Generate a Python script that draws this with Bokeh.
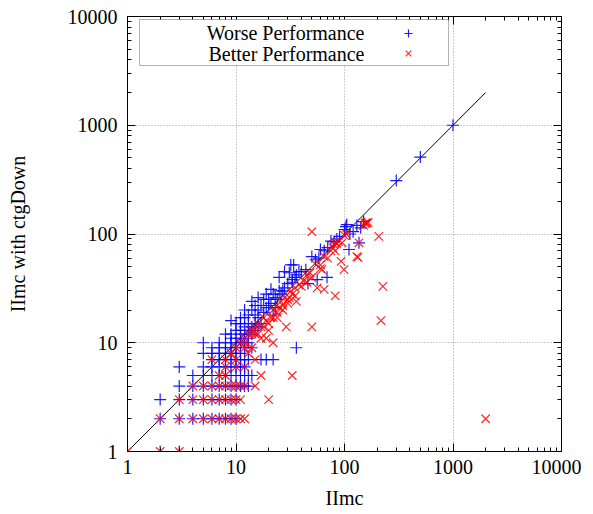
from bokeh.plotting import figure
from bokeh.models import (LogAxis, LogTicker, BoxAnnotation, Label, Legend, LegendItem,
                          Range1d, BasicTickFormatter)
from bokeh.embed import file_html
from bokeh.resources import INLINE

# ---------------- data ----------------
series_names = ["Worse Performance", "Better Performance"]
x_label = "IImc"
y_label = "IImc with ctgDown"
axis_range = [1, 10000]
diag_x = [1, 2000]
diag_y = [1, 2000]

worse_points = [
    (1, 1), (2, 1), (3, 1),
    (2, 2), (3, 2), (4, 2), (5, 2), (6, 2), (7, 2), (8, 2), (9, 2), (10, 2),
    (2, 3), (3, 3), (4, 3), (5, 3), (6, 3), (7, 3), (8, 3), (9, 3), (10, 3),
    (3, 4), (4, 4), (5, 4), (6, 4), (7, 4), (8, 4), (9, 4), (10, 4), (11, 4), (12, 4), (13, 4),
    (4, 5), (5, 5), (6, 5), (7, 5), (8, 5), (9, 5), (10, 5), (11, 5), (12, 5), (13, 5), (14, 5),
    (3, 6), (5, 6), (6, 6), (7, 6), (8, 6), (9, 6), (10, 6), (11, 6), (12, 6),
    (6, 7), (7, 7), (8, 7), (9, 7), (10, 7), (11, 7), (12, 7), (13, 7), (17, 7), (19, 7), (22, 7),
    (5, 8), (6, 8), (7, 8), (8, 8), (9, 8), (10, 8), (11, 8),
    (6, 9), (7, 9), (8, 9), (9, 9), (10, 9), (12, 9), (14, 9), (36, 9),
    (5, 10), (7, 10), (8, 10), (9, 10), (10, 10), (11, 10), (12, 10), (13, 10),
    (9, 11), (10, 11), (11, 11), (13, 11),
    (8, 12), (9, 12), (11, 12), (12, 12), (14, 12),
    (10, 13), (11, 13), (13, 13), (15, 13),
    (12, 14), (14, 14), (16, 14),
    (10, 15), (11, 15), (13, 15), (15, 15), (17, 15),
    (9, 16), (11, 17), (12, 20),
    (12, 17), (13, 18), (14, 20), (15, 18), (16, 17), (15, 22), (16, 20), (17, 22),
    (18, 19), (18, 25), (19, 21), (20, 22), (20, 25), (21, 23), (22, 18), (23, 21),
    (22, 28), (23, 26), (24, 25), (25, 30), (26, 28), (27, 30), (28, 32), (30, 35),
    (32, 52), (33, 38), (34, 52), (33, 36), (35, 40), (36, 42), (38, 45), (40, 45),
    (44, 47), (46, 35), (50, 62), (54, 58), (56, 38), (58, 60), (60, 72), (65, 70),
    (69, 40), (70, 75), (75, 86), (80, 85), (85, 90), (90, 95), (100, 110), (103, 117),
    (105, 122), (110, 72), (112, 100), (120, 105), (130, 120), (136, 83), (141, 114),
    (150, 130), (300, 310), (500, 510), (1000, 1000),
    (16, 26), (19, 28), (14, 24), (25, 40), (28, 45), (31, 44), (21, 31),
]

better_points = [
    (1, 1), (2, 1), (3, 1),
    (2, 2), (3, 2), (4, 2), (5, 2), (6, 2), (7, 2), (8, 2), (9, 2), (10, 2), (11, 2), (12, 2), (2000, 2),
    (3, 3), (4, 3), (5, 3), (6, 3), (7, 3), (8, 3), (9, 3), (10, 3), (11, 3), (20, 3),
    (4, 4), (5, 4), (6, 4), (7, 4), (8, 4), (9, 4), (10, 4), (11, 4), (12, 4), (15, 4),
    (7, 5), (8, 5), (17, 5), (33, 5),
    (8, 6), (10, 6), (12, 6),
    (6, 7), (8, 7), (10, 7), (15, 7),
    (12, 9), (13, 8),
    (9, 8), (10, 9), (11, 10), (12, 10), (12, 11), (13, 12), (14, 13), (14, 12),
    (15, 14), (15, 12), (16, 15), (16, 12), (17, 14), (18, 17), (18, 14), (19, 16),
    (20, 15), (21, 17), (22, 20), (22, 17), (22, 10), (24, 19), (25, 21), (26, 24),
    (27, 22), (28, 26), (29, 14), (30, 23), (30, 25), (31, 26), (32, 30), (33, 28),
    (35, 32), (35, 27), (38, 34), (40, 33), (42, 37), (45, 42), (45, 36), (48, 44),
    (50, 40), (50, 14), (50, 105), (55, 52), (56, 32), (60, 48), (60, 52), (62, 47),
    (65, 31), (65, 62), (70, 60), (75, 70), (78, 75), (80, 80), (82, 70), (82, 27),
    (83, 83), (85, 82), (88, 85), (93, 56), (95, 83), (99, 47), (100, 97), (104, 100),
    (130, 62), (133, 61), (136, 83), (150, 120), (155, 125), (158, 127), (162, 126),
    (165, 128), (207, 95), (217, 16), (226, 33),
    (14, 9), (17, 11), (20, 13), (24, 17), (27, 20), (19, 11), (36, 24),
]

worse_x = [pt[0] for pt in worse_points]
worse_y = [pt[1] for pt in worse_points]
better_x = [pt[0] for pt in better_points]
better_y = [pt[1] for pt in better_points]

FONT = "Liberation Serif"
FS = "20px"
BLUE = "#0000ff"
RED = "#ff0000"

p = figure(
    x_axis_type="log", y_axis_type="log",
    x_range=Range1d(*axis_range), y_range=Range1d(*axis_range),
    frame_width=434, frame_height=435,
    min_border_left=127, min_border_right=20, min_border_top=16, min_border_bottom=54,
    output_backend="svg", toolbar_location=None,
    background_fill_color="white", border_fill_color="white",
)
p.outline_line_color = "black"
p.outline_line_width = 1


def style_axis(ax, show_labels=True):
    ax.ticker = LogTicker(desired_num_ticks=5, num_minor_ticks=10)
    ax.formatter = BasicTickFormatter()
    ax.major_tick_in = 8
    ax.major_tick_out = 0
    ax.minor_tick_in = 4
    ax.minor_tick_out = 0
    ax.axis_line_color = "black"
    ax.axis_line_width = 1
    ax.major_tick_line_color = "black"
    ax.minor_tick_line_color = "black"
    ax.major_label_text_font = FONT
    ax.major_label_text_color = "black"
    ax.axis_label_text_font = FONT
    ax.axis_label_text_font_size = FS
    ax.axis_label_text_font_style = "normal"
    ax.axis_label_text_color = "black"
    if show_labels:
        ax.major_label_text_font_size = FS
    else:
        ax.major_label_text_font_size = "2px"
        ax.major_label_text_alpha = 0
        ax.major_label_standoff = 0


xa = p.xaxis[0]
ya = p.yaxis[0]
style_axis(xa)
style_axis(ya)
xa.axis_label = x_label
ya.axis_label = y_label
xa.major_label_standoff = 8
xa.axis_label_standoff = 10
ya.major_label_standoff = 10
ya.axis_label_standoff = 36

top = LogAxis()
right = LogAxis()
style_axis(top, False)
style_axis(right, False)
p.add_layout(top, "above")
p.add_layout(right, "right")

for g in (p.xgrid[0], p.ygrid[0]):
    g.ticker = LogTicker(desired_num_ticks=5)
    g.grid_line_color = "#9a9a9a"
    g.grid_line_dash = "1 2"
    g.grid_line_width = 1

p.line(diag_x, diag_y, line_color="black", line_width=1)

rb = p.scatter(worse_x, worse_y, marker="cross", size=12, line_color=BLUE,
               line_width=1.2, line_alpha=0.9)
rr = p.scatter(better_x, better_y, marker="x", size=12, line_color=RED,
               line_width=1.2, line_alpha=0.85)

# legend box (gnuplot style: text then sample)
box = BoxAnnotation(left=12, right=321, top=432, bottom=386,
                    left_units="screen", right_units="screen",
                    top_units="screen", bottom_units="screen",
                    fill_color="white", fill_alpha=1.0,
                    line_color="black", line_width=1)
p.add_layout(box)

p.add_layout(Label(x=237, y=419, x_units="screen", y_units="screen",
                   text=series_names[0], text_align="right", text_baseline="middle",
                   text_font=FONT, text_font_size=FS, text_color="black"))
p.add_layout(Label(x=237, y=398, x_units="screen", y_units="screen",
                   text=series_names[1], text_align="right", text_baseline="middle",
                   text_font=FONT, text_font_size=FS, text_color="black"))

leg = Legend(items=[LegendItem(label="", renderers=[rb]),
                    LegendItem(label="", renderers=[rr])],
             location=(269, 388), glyph_width=24, glyph_height=20, spacing=0,
             padding=0, margin=0, border_line_alpha=0, background_fill_alpha=0,
             label_text_font_size="6px", label_height=20, label_standoff=0)
p.add_layout(leg, "center")

open("out.html", "w").write(file_html(p, INLINE))
